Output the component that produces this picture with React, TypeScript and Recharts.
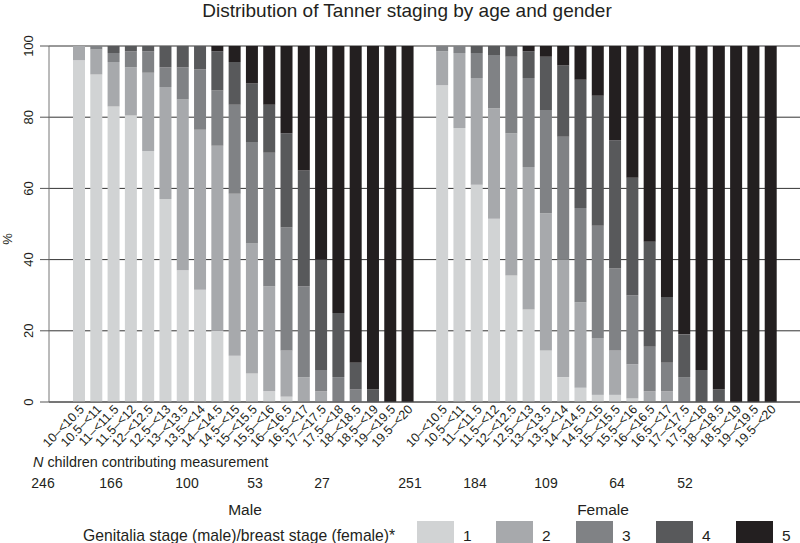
import React from "react";
import { BarChart, Bar, XAxis, YAxis, CartesianGrid } from "recharts";

const ageLabels = [
  "10–<10.5", "10.5–<11", "11–<11.5", "11.5–<12", "12–<12.5",
  "12.5–<13", "13–<13.5", "13.5–<14", "14–<14.5", "14.5–<15",
  "15–<15.5", "15.5–<16", "16–<16.5", "16.5–<17", "17–<17.5",
  "17.5–<18", "18–<18.5", "18.5–<19", "19–<19.5", "19.5–<20",
];

const maleS1 = [96, 92, 83, 80.5, 70.5, 57, 37, 31.5, 20, 13, 8, 3, 1.5, 0, 0, 0, 0, 0, 0, 0];
const maleS2 = [4, 7, 12.5, 13.5, 22, 31.5, 48, 45, 52, 45.5, 36.5, 29.5, 13, 7, 3, 0, 0, 0, 0, 0];
const maleS3 = [0, 1, 2.5, 4.5, 6, 5.5, 9, 17, 15.5, 25, 28.5, 37.5, 34.5, 25.5, 6, 7, 3.5, 0, 0, 0];
const maleS4 = [0, 0, 2, 1.5, 1.5, 6, 6, 6.5, 11, 12, 16.5, 13.5, 26.5, 32.5, 31, 18, 7.5, 3.5, 0, 0];
const maleS5 = [0, 0, 0, 0, 0, 0, 0, 0, 1.5, 4.5, 10.5, 16.5, 24.5, 35, 60, 75, 89, 96.5, 100, 100];

const femaleS1 = [89, 77, 61, 51.5, 35.5, 26, 14.5, 7, 4, 2, 2, 1, 0, 0, 0, 0, 0, 0, 0, 0];
const femaleS2 = [9.5, 21, 30, 31, 40, 40, 38.5, 33, 24, 16, 12.5, 9.5, 3, 3, 0, 0, 0, 0, 0, 0];
const femaleS3 = [1.5, 2, 7, 15, 21.5, 25, 29, 34.5, 26.5, 31.5, 23, 19.5, 12.5, 8, 7, 0, 0, 0, 0, 0];
const femaleS4 = [0, 0, 2, 2.5, 3, 7.5, 15, 20, 36, 36.5, 36, 33, 29.5, 18.5, 12, 9, 3.5, 0, 0, 0];
const femaleS5 = [0, 0, 0, 0, 0, 1.5, 3, 5.5, 9.5, 14, 26.5, 37, 55, 70.5, 81, 91, 96.5, 100, 100, 100];

const yTicks = [0, 20, 40, 60, 80, 100];
const stageNames = ["1", "2", "3", "4", "5"];
const stageColors = ["#d1d3d4", "#a7a9ac", "#808285", "#58595b", "#231f20"];

const maleCounts = ["246", "166", "100", "53", "27"];
const femaleCounts = ["251", "184", "109", "64", "52"];

const FONT = "'Liberation Sans', Arial, Helvetica, sans-serif";

type Row = { key: string; label: string; s1?: number; s2?: number; s3?: number; s4?: number; s5?: number };

const rows: Row[] = [
  ...ageLabels.map((a, i) => ({
    key: `M${i}`, label: a,
    s1: maleS1[i], s2: maleS2[i], s3: maleS3[i], s4: maleS4[i], s5: maleS5[i],
  })),
  { key: "gap", label: "" },
  ...ageLabels.map((a, i) => ({
    key: `F${i}`, label: a,
    s1: femaleS1[i], s2: femaleS2[i], s3: femaleS3[i], s4: femaleS4[i], s5: femaleS5[i],
  })),
];

const labelByKey: Record<string, string> = {};
rows.forEach((r) => { labelByKey[r.key] = r.label; });

const XTick = (props: any) => {
  const { x, payload } = props;
  const label = labelByKey[payload.value];
  if (!label) return null;
  return (
    <text
      x={0}
      y={0}
      transform={`translate(${x + 3},${407}) rotate(-46)`}
      textAnchor="end"
      dy="0.35em"
      fontSize={12.6}
      fontFamily={FONT}
      fill="#231f20"
    >
      {label}
    </text>
  );
};

const YTick = (props: any) => {
  const { y, payload } = props;
  return (
    <text
      x={33}
      y={y}
      transform={`rotate(-90 33 ${y})`}
      textAnchor="middle"
      fontSize={13}
      fontFamily={FONT}
      fill="#231f20"
    >
      {payload.value}
    </text>
  );
};

const maleCountX = [43, 111, 187, 255, 322];
const femaleCountX = [410, 475, 546, 617, 685];
const legendBoxX = [417, 496, 576, 656, 736];

export default function App() {
  return (
    <div style={{ position: "absolute", left: 0, top: 0, width: 800, height: 543, background: "#fff", overflow: "hidden" }}>
      <BarChart
        width={800}
        height={543}
        data={rows}
        margin={{ top: 46, right: 0, left: 0, bottom: 81 }}
      >
        <CartesianGrid vertical={false} stroke="#333" strokeWidth={1} />
        <XAxis
          dataKey="key"
          type="category"
          interval={0}
          tickLine={false}
          axisLine={{ stroke: "#555" }}
          height={60}
          padding={{ left: 21, right: 21 }}
          tick={<XTick />}
        />
        <YAxis
          domain={[0, 100]}
          ticks={yTicks}
          width={49}
          tickSize={9}
          axisLine={{ stroke: "#777" }}
          tickLine={{ stroke: "#555" }}
          tick={<YTick />}
          allowDataOverflow
        />
        {stageNames.map((s, i) => (
          <Bar
            key={s}
            dataKey={`s${i + 1}`}
            stackId="a"
            fill={stageColors[i]}
            barSize={12}
            isAnimationActive={false}
          />
        ))}
      </BarChart>
      <svg
        width={800}
        height={543}
        style={{ position: "absolute", left: 0, top: 0, pointerEvents: "none" }}
        fontFamily={FONT}
      >
        <text x={407} y={17} textAnchor="middle" fontSize={19} fill="#231f20">
          Distribution of Tanner staging by age and gender
        </text>
        <text x={12} y={239} transform="rotate(-90 12 239)" textAnchor="middle" fontSize={13} fill="#231f20">
          %
        </text>
        <text x={33} y={467} fontSize={14.4} fill="#231f20">
          <tspan fontStyle="italic">N</tspan> children contributing measurement
        </text>
        {maleCounts.map((c, i) => (
          <text key={`m${i}`} x={maleCountX[i]} y={488} textAnchor="middle" fontSize={14} fill="#231f20">
            {c}
          </text>
        ))}
        {femaleCounts.map((c, i) => (
          <text key={`f${i}`} x={femaleCountX[i]} y={488} textAnchor="middle" fontSize={14} fill="#231f20">
            {c}
          </text>
        ))}
        <text x={245} y={515} textAnchor="middle" fontSize={15.5} fill="#231f20">Male</text>
        <text x={603} y={515} textAnchor="middle" fontSize={15.5} fill="#231f20">Female</text>
        <text x={83} y={541} fontSize={15.7} fill="#231f20">
          Genitalia stage (male)/breast stage (female)*
        </text>
        {stageNames.map((s, i) => (
          <g key={`lg${i}`}>
            <rect x={legendBoxX[i]} y={521} width={37} height={24} fill={stageColors[i]} />
            <text x={legendBoxX[i] + 46} y={541} fontSize={15.5} fill="#231f20">{s}</text>
          </g>
        ))}
      </svg>
    </div>
  );
}
